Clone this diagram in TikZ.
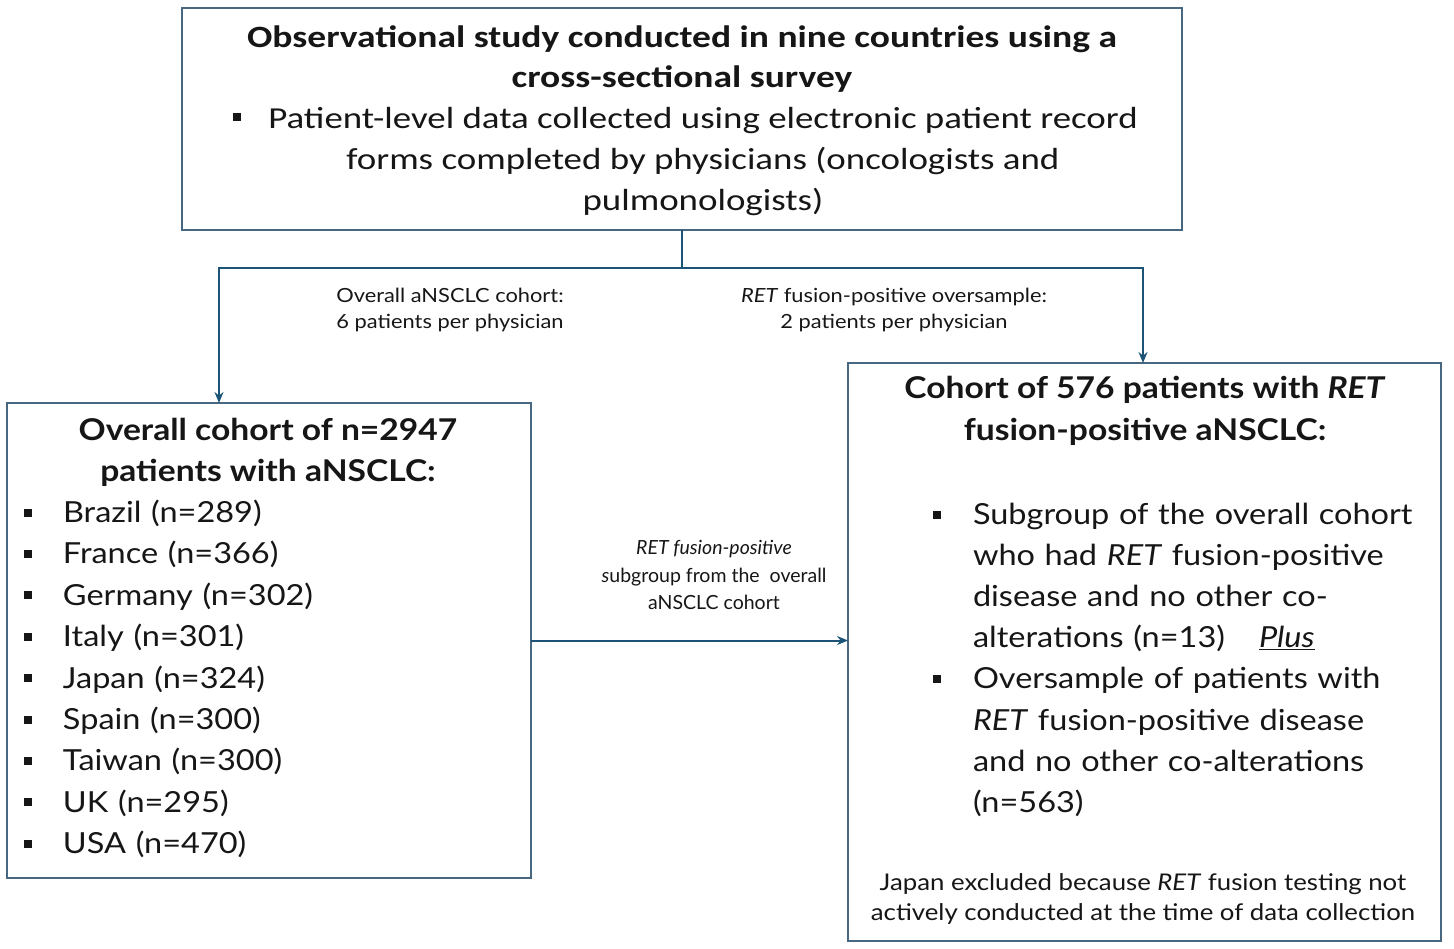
\documentclass[tikz,border=0pt]{standalone}
\usepackage{fontspec}
\setmainfont{Lato}[FakeStretch=1.12]
\newfontfamily\narrowfont{Carlito}[FakeStretch=1.21]
\newfontfamily\labelfont{Lato}
\usetikzlibrary{positioning, arrows.meta, calc}
\definecolor{flowBlue}{RGB}{28,84,120}
\definecolor{boxEdge}{RGB}{72,104,130}
\definecolor{txtDark}{RGB}{22,22,22}
\newcommand{\sqbul}[1]{\makebox[#1][l]{\rule[0.2em]{8pt}{8pt}}}
\newcommand{\bitem}[2]{\par\noindent\hangindent=#1\hangafter=1\sqbul{#1}#2}

\begin{document}
\begin{tikzpicture}[x=1pt, y=-1pt, text=txtDark,
	box/.style={draw=boxEdge, line width=1.4pt, fill=white, outer sep=0pt, anchor=north west},
	flow/.style={draw=flowBlue, line width=2pt},
	arr/.style={flow, -{Stealth[length=11pt, width=9pt]}},
	note/.style={align=center, font=\fontsize{19.5}{26}\selectfont}]
	\useasboundingbox (0,0) rectangle (1454,949);
	% boxes
	\node[box, minimum width=1000pt, minimum height=222pt] (study) at (182,8) {};
	\node[box, minimum width=524pt, minimum height=475pt] (overall) at (7,403) {};
	\node[box, minimum width=593pt, minimum height=578pt] (ret) at (848,363) {};
	% top box text
	\node[align=center, font=\narrowfont\bfseries\fontsize{31}{40.5}\selectfont] (studytitle) at (682,59) {Observational study conducted in nine countries using a\\cross-sectional survey};
	\node[align=center, font=\narrowfont\fontsize{30.5}{41}\selectfont] (studytext) at (703,162) {Patient-level data collected using electronic patient record\\forms completed by physicians (oncologists and\\pulmonologists)};
	\node[fill=txtDark, minimum size=8pt, inner sep=0pt] (studybul) at (237,117) {};
	% left box text
	\node[align=center, font=\bfseries\fontsize{30}{41}\selectfont] (overalltitle) at (268,452.5) {Overall cohort of n=2947\\patients with aNSCLC:};
	\node[text width=480pt, align=left, font=\fontsize{29}{41.4}\selectfont] (countries) at (264,669.5) {%
		\bitem{39pt}{Brazil (n=289)}
		\bitem{39pt}{France (n=366)}
		\bitem{39pt}{Germany (n=302)}
		\bitem{39pt}{Italy (n=301)}
		\bitem{39pt}{Japan (n=324)}
		\bitem{39pt}{Spain (n=300)}
		\bitem{39pt}{Taiwan (n=300)}
		\bitem{39pt}{UK (n=295)}
		\bitem{39pt}{USA (n=470)}\par};
	% right box text
	\node[align=center, font=\bfseries\fontsize{30}{42}\selectfont] (rettitle) at (1145,411) {Cohort of 576 patients with \textit{RET}\\fusion-positive aNSCLC:};
	\node[text width=480pt, align=left, font=\fontsize{29}{41.1}\selectfont] (retlist) at (1173,650) {%
		\bitem{40pt}{Subgroup of the overall cohort\newline who had \textit{RET} fusion-positive\newline disease and no other co-\newline alterations (n=13)\hspace{34pt}\underline{\textit{Plus}}}
		\bitem{40pt}{Oversample of patients with\newline \textit{RET} fusion-positive disease\newline and no other co-alterations\newline (n=563)}\par};
	\node[align=center, font=\fontsize{23}{30}\selectfont] (retnote) at (1143,899) {Japan excluded because \textit{RET} fusion testing not\\actively conducted at the time of data collection};
	% connectors
	\coordinate (split) at (study.south |- 0,268);
	\coordinate (lturn) at (219,268);
	\coordinate (rturn) at (1143,268);
	\draw[flow] (study.south) -- (split);
	\draw[arr] (split) -- (lturn) -- (lturn |- overall.north);
	\draw[arr] (split) -- (rturn) -- (rturn |- ret.north);
	\draw[arr] (overall.east) -- (overall.east -| ret.west);
	% labels
	\node[note] (cohortlbl) at (450,310) {Overall aNSCLC cohort:\\6 patients per physician};
	\node[note] (oversamplelbl) at (894,310) {\textit{RET} fusion-positive oversample:\\2 patients per physician};
	\node[align=center, font=\labelfont\fontsize{19.5}{27.5}\selectfont] (subgrouplbl) at (714,575) {\textit{RET fusion-positive}\hspace{12pt}\\\textit{s}ubgroup from the\ \ overall\\aNSCLC cohort};
\end{tikzpicture}
\end{document}
